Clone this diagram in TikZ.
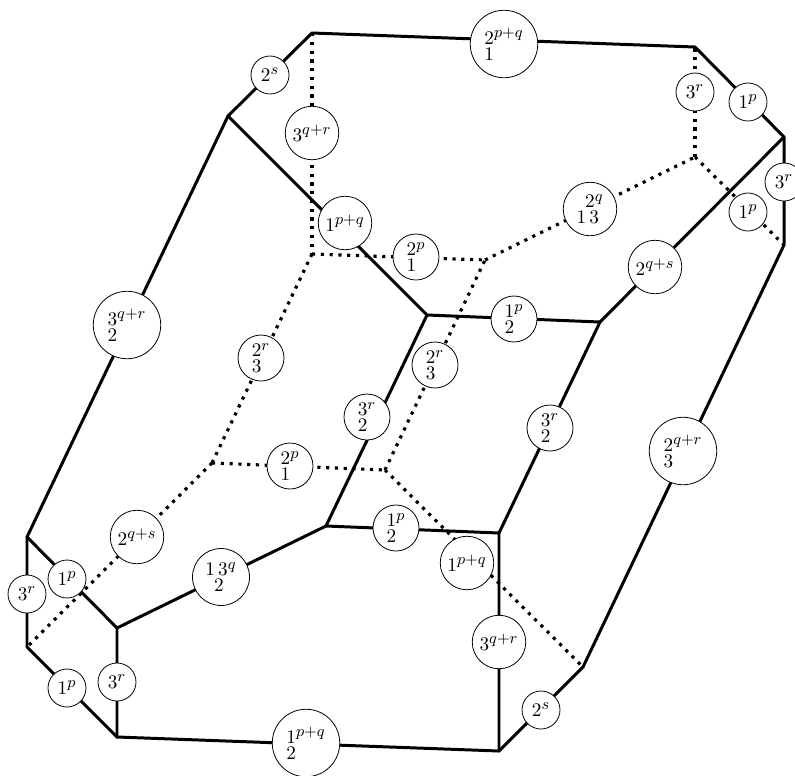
\documentclass[tikz,border=0pt]{standalone}
\usepackage{amsmath}
\usepackage{tikz}
\DeclareMathSizes{10.95}{10.95}{9.5}{7}
\tikzset{
	edge/.style   ={line width=1.7pt, line cap=round, line join=round},
	hidden/.style ={line width=1.8pt, dash pattern=on 1.8pt off 3.2pt},
	lab/.style    ={circle, draw=black, line width=0.45pt, fill=white, inner sep=0pt, align=left, font=\fontsize{10.95}{9}\selectfont},
	labS/.style   ={lab, minimum size=0.76cm},
	labM/.style   ={lab, minimum size=0.92cm},
	labW/.style   ={lab, minimum size=1.07cm},
	labL/.style   ={lab, minimum size=1.35cm},
}
\begin{document}
\begin{tikzpicture}[x=0.02cm, y=-0.02cm]
	\useasboundingbox (0,0) rectangle (795,775);
	% outer vertices
	\coordinate (ta) at (312,33);
	\coordinate (tb) at (695,47);
	\coordinate (tc) at (784,137);
	\coordinate (td) at (784,245);
	\coordinate (te) at (583,667);
	\coordinate (tf) at (499,751);
	\coordinate (tg) at (117,737);
	\coordinate (th) at (27,647);
	\coordinate (ti) at (27,537);
	\coordinate (tj) at (228,116);
	% inner vertices, front
	\coordinate (fk) at (117,628);
	\coordinate (fl) at (326,526);
	\coordinate (fm) at (499,533);
	\coordinate (fn) at (427,315);
	\coordinate (fo) at (600,322);
	% inner vertices, back
	\coordinate (bp) at (312,254);
	\coordinate (bq) at (485,260);
	\coordinate (br) at (695,157);
	\coordinate (bs) at (212,463);
	\coordinate (bt) at (385,470);
	% front edges
	\draw[edge] (ta) -- (tb) -- (tc) -- (td) -- (te) -- (tf) -- (tg) -- (th) -- (ti) -- (tj) -- cycle;
	\draw[edge] (ti) -- (fk) -- (tg);
	\draw[edge] (fk) -- (fl) -- (fm) -- (tf);
	\draw[edge] (fl) -- (fn) -- (fo) -- (fm);
	\draw[edge] (tj) -- (fn);
	\draw[edge] (fo) -- (tc);
	% back edges
	\draw[hidden] (ta) -- (bp);
	\draw[hidden] (bp) -- (bq);
	\draw[hidden] (bq) -- (br);
	\draw[hidden] (br) -- (tb);
	\draw[hidden] (br) -- (td);
	\draw[hidden] (bp) -- (bs);
	\draw[hidden] (bs) -- (bt);
	\draw[hidden] (bt) -- (bq);
	\draw[hidden] (bs) -- (th);
	\draw[hidden] (bt) -- (te);
	% labels
	\node[labL] (l1)  at (504,44)  {$2^{p+q}$\\$1$};
	\node[labS] (l2)  at (270,75)  {$2^{s}$};
	\node[labS] (l3)  at (695,92)  {$3^{r}$};
	\node[labS] (l4)  at (748,102) {$1^{p}$};
	\node[labW] (l5)  at (312,133) {$3^{q+r}$};
	\node[labS] (l6)  at (784,182) {$3^{r}$};
	\node[labW] (l7)  at (590,209) {\hspace{0.45em}$2^{q}$\\$1\,3$};
	\node[labS] (l8)  at (748,212) {$1^{p}$};
	\node[labW] (l9)  at (345,223) {$1^{p+q}$};
	\node[labM] (l10) at (416,257) {$2^{p}$\\$1$};
	\node[labW] (l11) at (655,267) {$2^{q+s}$};
	\node[labM] (l12) at (514,319) {$1^{p}$\\$2$};
	\node[labL] (l13) at (127,325) {$3^{q+r}$\\$2$};
	\node[labM] (l14) at (261,358) {$2^{r}$\\$3$};
	\node[labM] (l15) at (435,365) {$2^{r}$\\$3$};
	\node[labM] (l16) at (367,417) {$3^{r}$\\$2$};
	\node[labM] (l17) at (550,428) {$3^{r}$\\$2$};
	\node[labL] (l18) at (683,451) {$2^{q+r}$\\$3$};
	\node[labM] (l19) at (290,466) {$2^{p}$\\$1$};
	\node[labM] (l20) at (396,528) {$1^{p}$\\$2$};
	\node[labW] (l21) at (137,537) {$2^{q+s}$};
	\node[labW] (l22) at (467,563) {$1^{p+q}$};
	\node[labW, minimum size=1.14cm] (l23) at (221,577) {$1\,3^{q}$\\\hspace{0.45em}$2$};
	\node[labS] (l24) at (67,579)  {$1^{p}$};
	\node[labS] (l25) at (27,594)  {$3^{r}$};
	\node[labW] (l26) at (499,642) {$3^{q+r}$};
	\node[labS] (l27) at (117,682) {$3^{r}$};
	\node[labS] (l28) at (67,688)  {$1^{p}$};
	\node[labS] (l29) at (541,710) {$2^{s}$};
	\node[labL] (l30) at (306,743) {$1^{p+q}$\\$2$};
\end{tikzpicture}
\end{document}
